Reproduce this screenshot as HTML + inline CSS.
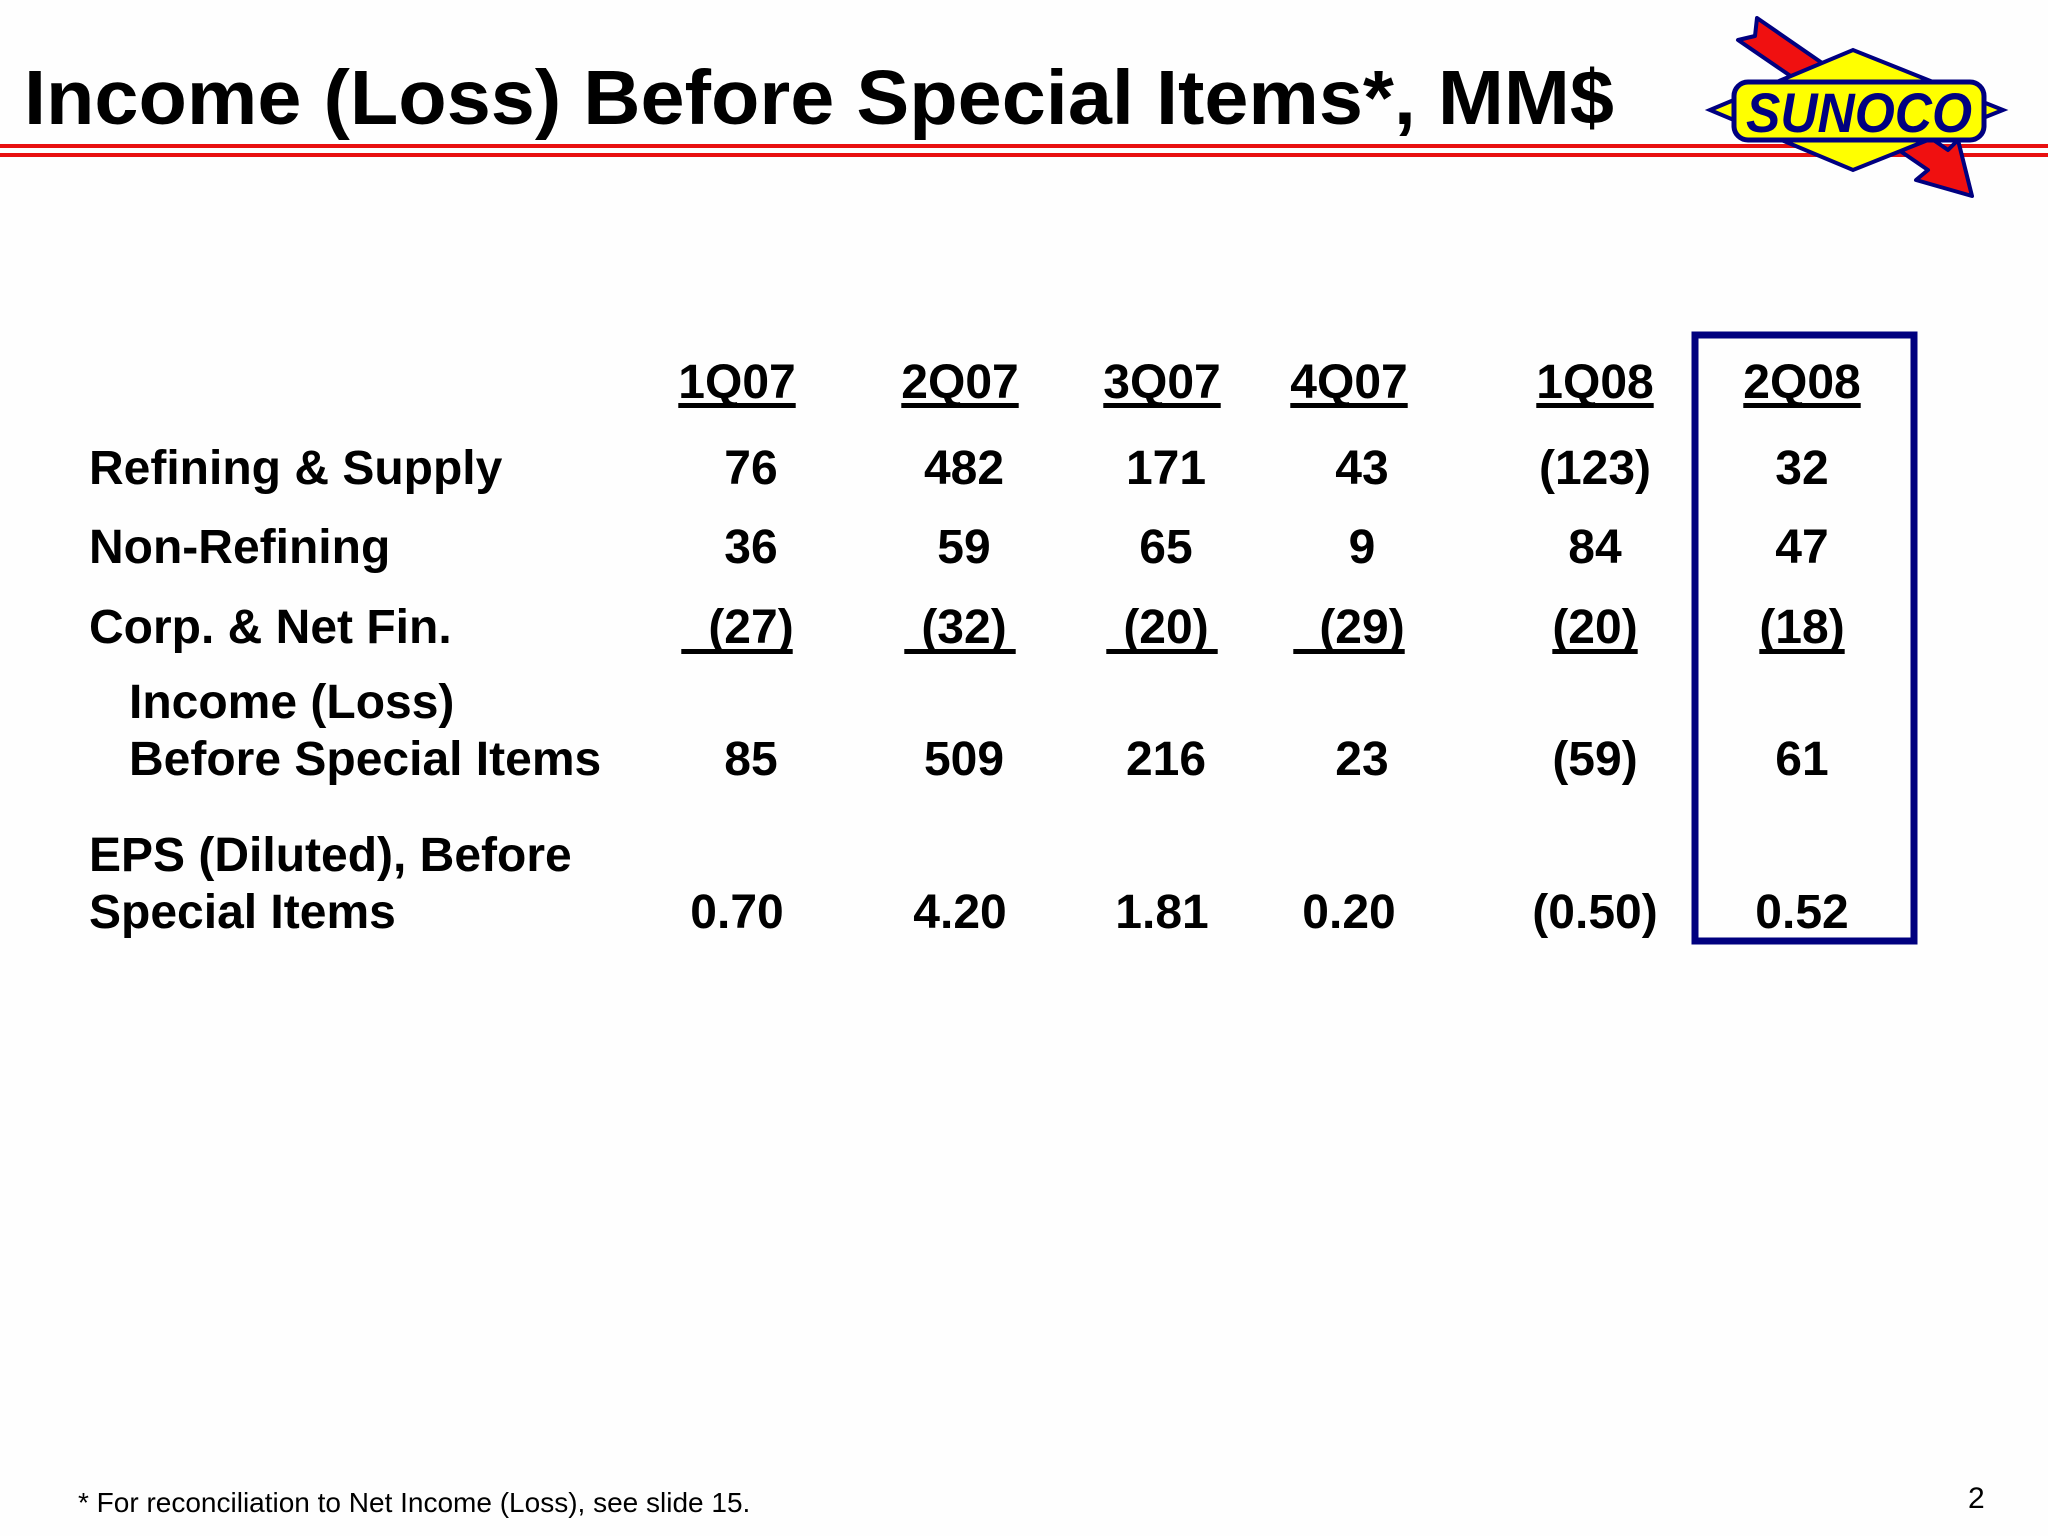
<!DOCTYPE html>
<html><head><meta charset="utf-8">
<style>
html,body{margin:0;padding:0;background:#fff;}
svg{display:block;}
text{font-family:"Liberation Sans",Arial,sans-serif;}
</style></head>
<body>
<svg id="slide" width="2048" height="1536" viewBox="0 0 2048 1536" xmlns="http://www.w3.org/2000/svg">
  <rect width="2048" height="1536" fill="#fefefe"/>
  <text x="24" y="124" font-size="77" font-weight="bold" fill="#000" textLength="1590" lengthAdjust="spacingAndGlyphs">Income (Loss) Before Special Items*, MM$</text>
  <rect x="0" y="144" width="2048" height="4" fill="#e81010"/>
  <rect x="0" y="153" width="2048" height="4" fill="#e81010"/>

  <g>
    <polygon points="1757,18 1948,150 1958,140 1972,196 1916,180 1928,170 1738,40 1755,36" fill="#f01010" stroke="#000080" stroke-width="4" stroke-linejoin="round"/>
    <polygon points="1710,110 1853,50 2003,110 1853,170" fill="#ffff00" stroke="#000080" stroke-width="4"/>
    <rect x="1734" y="82" width="250" height="58" rx="14" fill="#ffff00" stroke="#000080" stroke-width="5"/>
    <text x="1859" y="132" font-size="56" font-weight="bold" font-style="italic" fill="#000080" text-anchor="middle" textLength="226" lengthAdjust="spacingAndGlyphs">SUNOCO</text>
  </g>

  <rect x="1695" y="335" width="219" height="606" fill="none" stroke="#00007f" stroke-width="7"/>

  <g id="table"></g>

  <text x="78" y="1512" font-size="28" fill="#000">* For reconciliation to Net Income (Loss), see slide 15.</text>
  <text x="1968" y="1508" font-size="30" fill="#000">2</text>
</svg>
<script>
const quarters = ["1Q07","2Q07","3Q07","4Q07","1Q08","2Q08"];
const refining = ["76","482","171","43","(123)","32"];
const nonRefining = ["36","59","65","9","84","47"];
const corpNetFin = ["(27)","(32)","(20)","(29)","(20)","(18)"];
const incomeBeforeSpecial = ["85","509","216","23","(59)","61"];
const epsDiluted = ["0.70","4.20","1.81","0.20","(0.50)","0.52"];

const NS = "http://www.w3.org/2000/svg";
const table = document.getElementById('table');
const headX = [737, 960, 1162, 1349, 1595, 1802];
const valX = [751, 964, 1166, 1362, 1595, 1802];
const FS = 48;

function txt(x, y, s, anchor, name, size) {
  const t = document.createElementNS(NS, 'text');
  t.setAttribute('x', x); t.setAttribute('y', y);
  t.setAttribute('font-size', size || FS);
  t.setAttribute('font-weight', 'bold');
  t.setAttribute('text-anchor', anchor);
  t.textContent = s;
  
  
  table.appendChild(t);
  return t;
}
function uline(x1, x2, y, name) {
  const r = document.createElementNS(NS, 'rect');
  r.setAttribute('x', x1); r.setAttribute('y', y);
  r.setAttribute('width', x2 - x1); r.setAttribute('height', 5);
  r.setAttribute('fill', '#000');
  
  
  table.appendChild(r);
}

txt(89, 484, 'Refining & Supply', 'start', 'row-label-refining');
txt(89, 563, 'Non-Refining', 'start', 'row-label-non-refining');
txt(89, 643, 'Corp. & Net Fin.', 'start', 'row-label-corp-net-fin');
txt(129, 718, 'Income (Loss)', 'start', 'row-label-income-line1');
txt(129, 775, 'Before Special Items', 'start', 'row-label-income-line2');
txt(89, 871, 'EPS (Diluted), Before', 'start', 'row-label-eps-line1');
txt(89, 928, 'Special Items', 'start', 'row-label-eps-line2');

quarters.forEach((q, i) => {
  const h = txt(headX[i], 398, q, 'middle', 'column-header-' + q.toLowerCase());
  const w = h.getComputedTextLength ? h.getComputedTextLength() : 118;
  uline(headX[i] - w / 2, headX[i] + w / 2, 403, 'header-underline-' + q.toLowerCase());
  txt(valX[i], 484, refining[i], 'middle', 'refining-' + q.toLowerCase());
  txt(valX[i], 563, nonRefining[i], 'middle', 'non-refining-' + q.toLowerCase());
  const c = txt(valX[i], 643, corpNetFin[i], 'middle', 'corp-net-fin-' + q.toLowerCase());
  if (i < 4) {
    uline(headX[i] - w / 2 + 3, headX[i] + w / 2 - 3, 649, 'corp-underline-' + q.toLowerCase());
  } else {
    const cw = c.getComputedTextLength ? c.getComputedTextLength() : 85;
    uline(valX[i] - cw / 2, valX[i] + cw / 2, 649, 'corp-underline-' + q.toLowerCase());
  }
  txt(valX[i], 775, incomeBeforeSpecial[i], 'middle', 'income-before-special-' + q.toLowerCase());
  txt(headX[i], 928, epsDiluted[i], 'middle', 'eps-' + q.toLowerCase());
});
</script>
</body></html>
